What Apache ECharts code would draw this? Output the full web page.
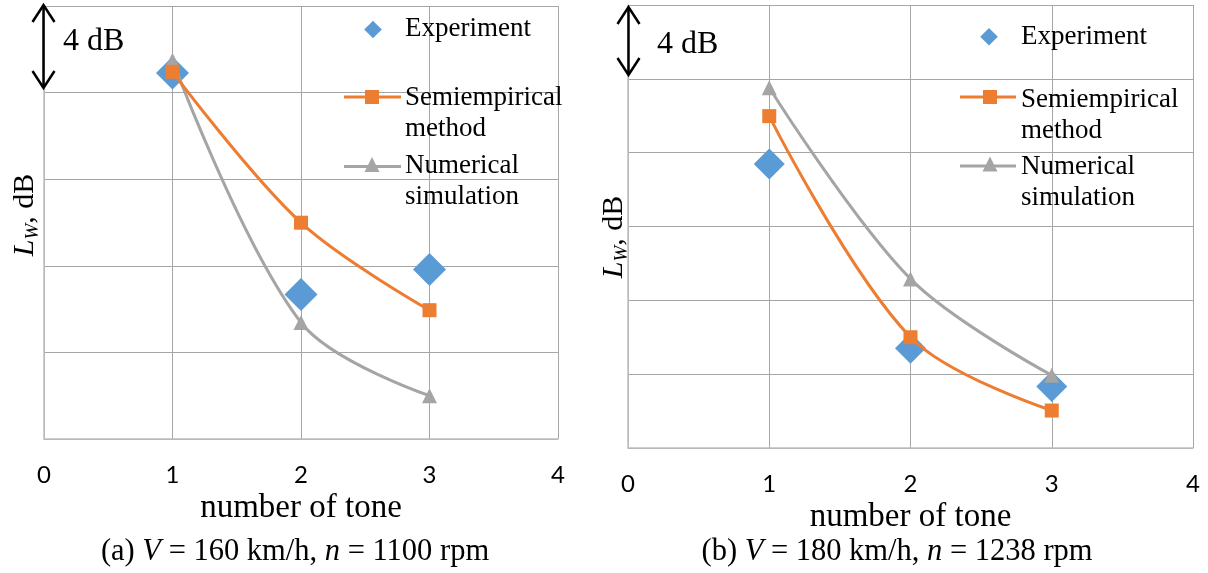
<!DOCTYPE html>
<html>
<head>
<meta charset="utf-8">
<script src="https://cdn.jsdelivr.net/npm/echarts@6/dist/echarts.min.js"></script>
<style>
  html, body { margin: 0; padding: 0; background: #ffffff; }
  #chart { width: 1208px; height: 573px; }
</style>
</head>
<body>
<div id="chart"></div>
<script>
// Tone numbers and sound power levels (relative, dB) for the two operating points
const tones = [1, 2, 3];
const xTicks = [0, 1, 2, 3, 4];

// (a) V = 160 km/h, n = 1100 rpm
const experimentA = [16.9, 6.68, 7.83];
const semiempiricalA = [16.96, 9.99, 5.95];
const numericalA = [17.5, 5.38, 2.0];

// (b) V = 180 km/h, n = 1238 rpm
const experimentB = [15.38, 5.41, 3.33];
const semiempiricalB = [17.98, 6.0, 2.03];
const numericalB = [19.52, 9.16, 3.94];

const legendNames = ['Experiment', 'Semiempirical\nmethod', 'Numerical\nsimulation'];
const captions = [
  '(a) {i|V} = 160 km/h, {i|n} = 1100 rpm',
  '(b) {i|V} = 180 km/h, {i|n} = 1238 rpm'
];
const xName = 'number of tone';
const scaleNote = '4 dB';

const BLUE = '#5B9BD5', ORANGE = '#ED7D31', GRAY = '#A5A5A5';
const SERIF = 'Liberation Serif';

const pairs = (ys) => tones.map((t, i) => [t, ys[i]]);

function xAxisFor(idx, gap) {
  return {
    gridIndex: idx, type: 'value', min: xTicks[0], max: xTicks[xTicks.length - 1], interval: 1,
    axisLine: { show: true, lineStyle: { color: '#BFBFBF', width: 1.5 } },
    axisTick: { show: false },
    splitLine: { show: true, lineStyle: { color: '#A6A6A6', width: 1 } },
    axisLabel: { margin: 24, fontFamily: 'Lato', fontSize: 24, color: '#000' },
    name: xName, nameLocation: 'middle', nameGap: gap,
    nameTextStyle: { fontFamily: SERIF, fontSize: 33, color: '#000' }
  };
}
function yAxisFor(idx, max) {
  return {
    gridIndex: idx, type: 'value', min: 0, max: max, interval: 4,
    axisLine: { show: true, lineStyle: { color: '#BFBFBF', width: 1.5 } },
    axisTick: { show: false },
    axisLabel: { show: false },
    splitLine: { show: true, lineStyle: { color: '#A6A6A6', width: 1 } }
  };
}
function seriesFor(idx, exp, semi, num, diamond) {
  return [
    {
      name: legendNames[2], type: 'line', xAxisIndex: idx, yAxisIndex: idx,
      data: pairs(num), smooth: 0.35, symbol: 'triangle', symbolSize: 15,
      lineStyle: { color: GRAY, width: 3 }, itemStyle: { color: GRAY, opacity: 1 }
    },
    {
      name: legendNames[0], type: 'scatter', xAxisIndex: idx, yAxisIndex: idx,
      data: pairs(exp), symbol: 'diamond', symbolSize: diamond,
      itemStyle: { color: BLUE, opacity: 1 }
    },
    {
      name: legendNames[1], type: 'line', xAxisIndex: idx, yAxisIndex: idx,
      data: pairs(semi), smooth: 0.35, symbol: 'rect', symbolSize: 14,
      lineStyle: { color: ORANGE, width: 3 }, itemStyle: { color: ORANGE, opacity: 1 }
    }
  ];
}

// Legend block drawn inside the plot's upper-right corner
function legendBlock(L) {
  const d = 8.8;
  const tri = 7.5;
  const txt = (x, y, s) => ({
    type: 'text', x: x, y: y, z: 10,
    style: { text: s, fontFamily: SERIF, fontSize: 27, lineHeight: 31, fill: '#000',
             align: 'left', verticalAlign: 'top' }
  });
  return [
    { type: 'polygon', z: 10, shape: { points: [[L.dx, L.dy - d], [L.dx + d, L.dy], [L.dx, L.dy + d], [L.dx - d, L.dy]] },
      style: { fill: BLUE } },
    txt(L.tx, L.ey - 15.5, legendNames[0]),
    { type: 'line', z: 10, shape: { x1: L.lx1, y1: L.sy, x2: L.lx2, y2: L.sy }, style: { stroke: ORANGE, lineWidth: 3 } },
    { type: 'rect', z: 10, shape: { x: L.mx - 7, y: L.sy - 7, width: 14, height: 14 }, style: { fill: ORANGE } },
    txt(L.tx, L.s1 - 15.5, legendNames[1]),
    { type: 'line', z: 10, shape: { x1: L.lx1, y1: L.ny, x2: L.lx2, y2: L.ny }, style: { stroke: GRAY, lineWidth: 3 } },
    { type: 'polygon', z: 10, shape: { points: [[L.mx, L.ny - tri - 2], [L.mx + tri, L.ny + tri - 2], [L.mx - tri, L.ny + tri - 2]] },
      style: { fill: GRAY } },
    txt(L.tx, L.n1 - 15.5, legendNames[2])
  ];
}

// Double-headed scale arrow with its "4 dB" note
function scaleArrow(A) {
  const st = { stroke: '#000', lineWidth: 2.5, lineJoin: 'miter' };
  return [
    { type: 'line', z: 10, shape: { x1: A.x, y1: A.top, x2: A.x, y2: A.bot }, style: st },
    { type: 'polyline', z: 10, shape: { points: [[A.x - 11, A.top + 17], [A.x, A.top], [A.x + 11, A.top + 17]] }, style: Object.assign({ fill: null }, st) },
    { type: 'polyline', z: 10, shape: { points: [[A.x - 11, A.bot - 17], [A.x, A.bot], [A.x + 11, A.bot - 17]] }, style: Object.assign({ fill: null }, st) },
    { type: 'text', z: 10, x: A.tx, y: A.ty,
      style: { text: scaleNote, fontFamily: SERIF, fontSize: 32, fill: '#000', align: 'left', verticalAlign: 'middle' } }
  ];
}

function yTitle(x, y) {
  return {
    type: 'text', z: 10, x: x, y: y, rotation: Math.PI / 2,
    style: {
      text: '{i|L}{s|W}{n|, dB}', align: 'center', verticalAlign: 'middle',
      rich: {
        i: { fontFamily: SERIF, fontStyle: 'italic', fontSize: 30, lineHeight: 34, fill: '#000' },
        s: { fontFamily: SERIF, fontStyle: 'italic', fontSize: 19, lineHeight: 14, verticalAlign: 'bottom', fill: '#000' },
        n: { fontFamily: SERIF, fontSize: 30, lineHeight: 34, fill: '#000' }
      }
    }
  };
}

function caption(x, y, s) {
  return {
    type: 'text', z: 10, x: x, y: y,
    style: {
      text: s, align: 'center', verticalAlign: 'middle',
      fontFamily: SERIF, fontSize: 30.5, fill: '#000',
      rich: { i: { fontFamily: SERIF, fontStyle: 'italic', fontSize: 30.5, fill: '#000' } }
    }
  };
}

const chart = echarts.init(document.getElementById('chart'), null, { renderer: 'canvas' });
chart.setOption({
  animation: false,
  backgroundColor: '#ffffff',
  grid: [
    { left: 44, top: 6, width: 514, height: 433 },
    { left: 628, top: 5, width: 565, height: 443 }
  ],
  xAxis: [xAxisFor(0, 48), xAxisFor(1, 39)],
  yAxis: [yAxisFor(0, 20), yAxisFor(1, 24)],
  series: [].concat(
    seriesFor(0, experimentA, semiempiricalA, numericalA, 33),
    seriesFor(1, experimentB, semiempiricalB, numericalB, 31)
  ),
  graphic: [].concat(
    legendBlock({ dx: 373, dy: 29.5, tx: 405, ey: 28.5, lx1: 344, lx2: 401, mx: 372, sy: 97, s1: 97.5, ny: 166.5, n1: 165.5 }),
    legendBlock({ dx: 989, dy: 36.7, tx: 1021, ey: 36.7, lx1: 960, lx2: 1016, mx: 990, sy: 97, s1: 100, ny: 166, n1: 167 }),
    scaleArrow({ x: 43.5, top: 5, bot: 88, tx: 63, ty: 42 }),
    scaleArrow({ x: 628.5, top: 7, bot: 75, tx: 657, ty: 45 }),
    [yTitle(25, 215), yTitle(614, 237)],
    [caption(295, 552, captions[0]), caption(897, 552, captions[1])]
  )
});
</script>
</body>
</html>
